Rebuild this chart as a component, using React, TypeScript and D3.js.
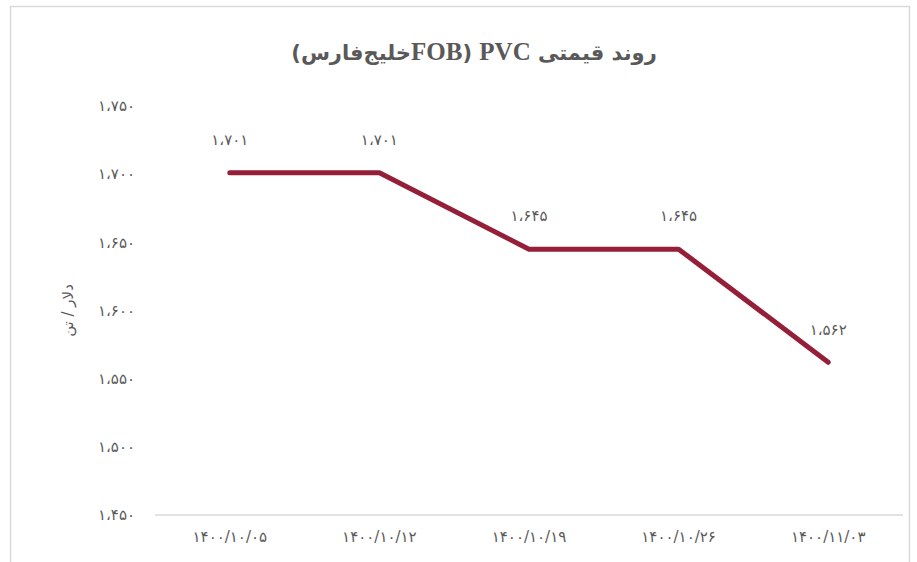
import React from "react";
import * as d3 from "d3";

const categories = ["1400/10/05", "1400/10/12", "1400/10/19", "1400/10/26", "1400/11/03"];
const prices = [1701, 1701, 1645, 1645, 1562];
const yTicks = [1450, 1500, 1550, 1600, 1650, 1700, 1750];
const titleParts = ["روند قیمتی ", "PVC", " (", "FOB", "خلیج‌فارس)"];
const yTitle = "دلار / تن";

const W = 917;
const H = 562;
const M = { left: 155, right: 903, top: 106, bottom: 515 };

const fa = (s: string) => s.replace(/[0-9]/g, (d) => "۰۱۲۳۴۵۶۷۸۹"[+d]);
const faNum = (n: number) => {
  const s = String(n);
  const withSep = s.length > 3 ? s.slice(0, s.length - 3) + "،" + s.slice(s.length - 3) : s;
  return fa(withSep);
};

const TEXT = "#595959";
const LINE = "#951F38";
const GRID = "#D9D9D9";
const NUMFONT = "'DejaVu Sans', 'Noto Sans', sans-serif";
const SERIF = "'Liberation Serif', 'Times New Roman', serif";

export default function App() {
  const x = d3.scaleBand<string>().domain(categories).range([M.left, M.right]);
  const y = d3.scaleLinear().domain([1450, 1750]).range([M.bottom, M.top]);
  const cx = (c: string) => (x(c) as number) + x.bandwidth() / 2;
  const pts = categories.map((c, i) => ({ c, v: prices[i] }));
  const line = d3
    .line<{ c: string; v: number }>()
    .x((d) => cx(d.c))
    .y((d) => y(d.v));

  return (
    <svg
      width={W}
      height={H}
      style={{ position: "absolute", left: 0, top: 0, display: "block", background: "#fff" }}
    >
      <rect x={10.5} y={6.5} width={899} height={620} fill="#fff" stroke={GRID} strokeWidth={1.5} />
      <text
        x={474}
        y={60}
        textAnchor="middle"
        direction="rtl"
        fontWeight="bold"
        fontSize={23}
        fill={TEXT}
        fontFamily="'DejaVu Sans', sans-serif"
      >
        {titleParts.map((p, i) => (
          <tspan key={i} fontFamily={/[A-Z]/.test(p) ? SERIF : "'DejaVu Sans', sans-serif"} fontSize={/[A-Z]/.test(p) ? 25 : 21}>
            {p}
          </tspan>
        ))}
      </text>
      {yTicks.map((t) => (
        <text
          key={t}
          x={135}
          y={y(t)}
          dy="0.35em"
          textAnchor="end"
          fontFamily={NUMFONT}
          fontSize={15}
          fill={TEXT}
        >
          {faNum(t)}
        </text>
      ))}
      <text
        transform={`translate(68, ${(M.top + M.bottom) / 2}) rotate(-90)`}
        textAnchor="middle"
        direction="rtl"
        fontFamily={NUMFONT}
        fontSize={15}
        fill={TEXT}
        dy="0.35em"
      >
        {yTitle}
      </text>
      <line x1={M.left} x2={M.right} y1={M.bottom} y2={M.bottom} stroke={GRID} strokeWidth={1.5} />
      {categories.map((c) => (
        <text
          key={c}
          x={cx(c)}
          y={537}
          dy="0.35em"
          textAnchor="middle"
          direction="ltr"
          fontFamily={NUMFONT}
          fontSize={15}
          fill={TEXT}
        >
          {fa(c)}
        </text>
      ))}
      <path
        d={line(pts) || ""}
        fill="none"
        stroke={LINE}
        strokeWidth={5}
        strokeLinecap="round"
        strokeLinejoin="round"
      />
      {pts.map((p, i) => (
        <text
          key={i}
          x={cx(p.c)}
          y={y(p.v) - 33}
          dy="0.35em"
          textAnchor="middle"
          fontFamily={NUMFONT}
          fontSize={15}
          fill={TEXT}
        >
          {faNum(p.v)}
        </text>
      ))}
    </svg>
  );
}
